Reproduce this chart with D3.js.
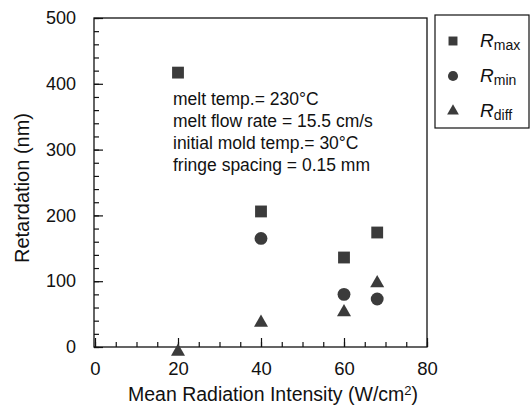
<!DOCTYPE html>
<html><head><meta charset="utf-8">
<script src="https://cdn.jsdelivr.net/npm/d3@7"></script>
<style>body{margin:0;background:#fff}svg{display:block}text{font-family:"Liberation Sans",Arial,sans-serif;fill:#111}</style>
</head><body><svg id="c" width="531" height="405"></svg>
<script>
const rmaxX = [20, 40, 60, 68];
const rmaxY = [417, 206, 136, 174];
const rminX = [40, 60, 68];
const rminY = [165, 80, 73];
const rdiffX = [20, 40, 60, 68];
const rdiffY = [-7, 37, 53, 97];
const xTicks = [0, 20, 40, 60, 80];
const yTicks = [0, 100, 200, 300, 400, 500];
const notes = ["melt temp.= 230\u00B0C", "melt flow rate = 15.5 cm/s", "initial mold temp.= 30\u00B0C", "fringe spacing = 0.15 mm"];
const legendNames = ["max", "min", "diff"];

const svg = d3.select("#c");
const L = 95, R = 427, T = 18, B = 347;
const x = d3.scaleLinear().domain([0, 80]).range([L, R]);
const y = d3.scaleLinear().domain([0, 500]).range([B, T]);
const fillC = "#3b3b3b";

// frame
svg.append("rect").attr("x", L - 1).attr("y", T).attr("width", R - L + 1).attr("height", B - T)
  .attr("fill", "none").attr("stroke", "#111").attr("stroke-width", 1.3);

// y axis
const gy = svg.append("g").attr("transform", `translate(${L - 1},0)`);
gy.call(d3.axisLeft(y).tickValues(d3.range(0, 501, 20)).tickSize(-5).tickFormat(""));
gy.call(g => g.select(".domain").remove());
const gy2 = svg.append("g").attr("transform", `translate(${L - 1},0)`)
  .call(d3.axisLeft(y).tickValues(yTicks).tickSizeInner(-9).tickSizeOuter(0).tickPadding(18).tickFormat(d3.format("d")));
gy2.select(".domain").remove();
gy2.selectAll("text").style("font-size", "18px").attr("fill", "#111");

// x axis
const gx = svg.append("g").attr("transform", `translate(0,${B})`);
gx.call(d3.axisBottom(x).tickValues(d3.range(0, 81, 5)).tickSize(-5).tickFormat(""));
gx.select(".domain").remove();
const gx2 = svg.append("g").attr("transform", `translate(0,${B})`)
  .call(d3.axisBottom(x).tickValues(xTicks).tickSizeInner(-9).tickSizeOuter(0).tickPadding(15).tickFormat(d3.format("d")));
gx2.select(".domain").remove();
gx2.selectAll("text").style("font-size", "18.5px").attr("fill", "#111");
svg.selectAll(".tick line").attr("stroke", "#111").attr("stroke-width", 1.2);

// titles
const xt = svg.append("text").attr("x", (L + R) / 2 + 12).attr("y", 401).attr("text-anchor", "middle").style("font-size", "19.5px");
xt.append("tspan").text("Mean Radiation Intensity (W/cm");
xt.append("tspan").text("2").style("font-size", "13px").attr("dy", -6);
xt.append("tspan").text(")").attr("dy", 6);
svg.append("text").attr("transform", "translate(29,188) rotate(-90)").attr("text-anchor", "middle")
  .style("font-size", "20px").text("Retardation (nm)");

// notes
svg.append("g").selectAll("text").data(notes).join("text")
  .attr("x", 173).attr("y", (d, i) => 105 + i * 22).style("font-size", "17.5px").text(d => d);

// markers
const sq = d3.symbol().type(d3.symbolSquare).size(140);
const ci = d3.symbol().type(d3.symbolCircle).size(130);
const tr = d3.symbol().type(d3.symbolTriangle).size(85);
svg.append("g").selectAll("path").data(rmaxX).join("path")
  .attr("d", sq).attr("transform", (d, i) => `translate(${x(d)},${y(rmaxY[i])})`).attr("fill", fillC);
svg.append("g").selectAll("path").data(rminX).join("path")
  .attr("d", ci).attr("transform", (d, i) => `translate(${x(d)},${y(rminY[i])})`).attr("fill", fillC);
svg.append("g").selectAll("path").data(rdiffX).join("path")
  .attr("d", tr).attr("transform", (d, i) => `translate(${x(d)},${y(rdiffY[i])})`).attr("fill", fillC);

// legend
svg.append("rect").attr("x", 435).attr("y", 15).attr("width", 94).attr("height", 113)
  .attr("fill", "none").attr("stroke", "#111").attr("stroke-width", 1.2);
const legSyms = [d3.symbol().type(d3.symbolSquare).size(80), d3.symbol().type(d3.symbolCircle).size(80), d3.symbol().type(d3.symbolTriangle).size(60)];
const lg = svg.append("g").selectAll("g").data(legendNames).join("g")
  .attr("transform", (d, i) => `translate(453,${41 + i * 35})`);
lg.append("path").attr("d", (d, i) => legSyms[i]()).attr("fill", fillC);
const lt = lg.append("text").attr("x", 27).attr("y", 6).style("font-size", "19px");
lt.append("tspan").text("R").style("font-style", "italic");
lt.append("tspan").text(d => d).style("font-size", "14px").attr("dy", 3);
</script></body></html>
